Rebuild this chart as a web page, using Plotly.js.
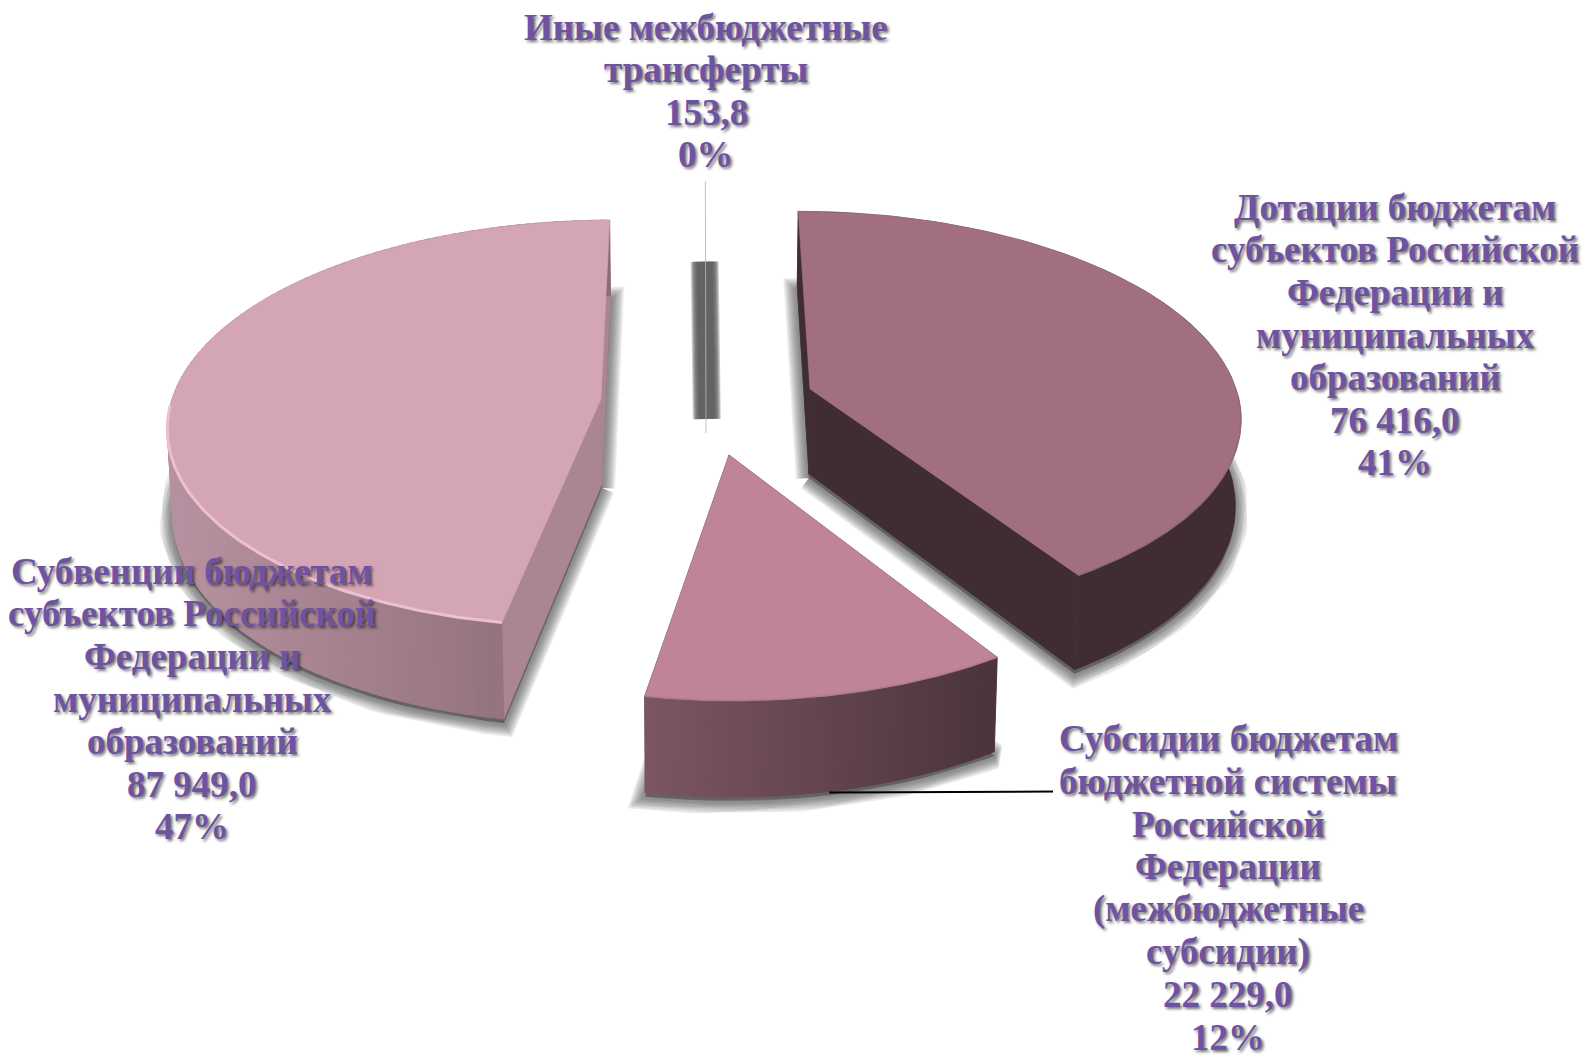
<!DOCTYPE html>
<html><head><meta charset="utf-8">
<script src="https://cdn.plot.ly/plotly-3.0.1.min.js"></script>
<style>html,body{margin:0;padding:0;background:#fff}#c{width:1584px;height:1058px}</style>
</head><body><div id="c"></div>
<script>
// ---- data ----
const categories = [
  ["Дотации бюджетам", "субъектов Российской", "Федерации и", "муниципальных", "образований"],
  ["Субсидии бюджетам", "бюджетной системы", "Российской", "Федерации", "(межбюджетные", "субсидии)"],
  ["Субвенции бюджетам", "субъектов Российской", "Федерации и", "муниципальных", "образований"],
  ["Иные межбюджетные", "трансферты"]
];
const values = [76416.0, 22229.0, 87949.0, 153.8];
const valueLabels = ["76 416,0", "22 229,0", "87 949,0", "153,8"];
const percentLabels = ["41%", "12%", "47%", "0%"];

// ---- styles / projection of the tilted, exploded pie ----
const topColors = ["#a16f7e", "#bf8498", "#d4a5b5", "#dcbcc8"];
const rimColors = ["#8f6a77", "#ab7d8e", "#ecc0cf", "#dcbcc8"];
const faceColors = ["#402d34", "#4b343d", "#aa8592", "#666666"];
const wallLeft = [[64,45,52], [125,86,100], [184,146,161]];
const wallRight = [[64,45,52], [75,52,61], [138,106,118]];
const apexX = [810, 729, 601, 706];
const apexY = [389, 455, 399, 433];
const radius = [426, 441, 429, 604];
const tilts = [0.467, 0.49, 0.467, 0.467];
const labelX = [1395, 1228, 192, 706];
const labelY = [335, 888, 699, 91];
const lineStep = 42.6;
const vx = 700, persp = 0.12, depth = 85, shrink = 0.99;
const labelColor = "#6f53a3";

const total = values.reduce((a, b) => a + b, 0);
let acc = 0;
const bounds = values.map(v => { const s = acc; acc += v / total * 360; return [s, acc]; });
const rad = d => d * Math.PI / 180;

function topPt(i, deg, frac) {
  const zn = -frac * Math.cos(rad(deg));
  const s = 1 / (1 - persp * zn);
  const wx = apexX[i] - vx + radius[i] * frac * Math.sin(rad(deg));
  return {x: vx + s * wx, y: apexY[i] + tilts[i] * s * zn * radius[i], s};
}
function botPt(i, deg, frac) {
  const p = topPt(i, deg, frac);
  return {x: vx + (p.x - vx) * shrink, y: p.y + depth * p.s};
}
function arc(fn, i, a, b, n) {
  const out = [];
  for (let k = 0; k <= n; k++) out.push(fn(i, a + (b - a) * k / n, 1));
  return out;
}
const traces = [];
function poly(pts, color, lw, lc) {
  traces.push({type: "scatter", mode: "lines", fill: "toself", fillcolor: color,
    x: pts.map(p => p.x).concat(pts[0].x), y: pts.map(p => p.y).concat(pts[0].y),
    line: {width: lw === undefined ? 0.6 : lw, color: lc || color}, hoverinfo: "skip", showlegend: false});
}
function path(pts, color, w) {
  traces.push({type: "scatter", mode: "lines", x: pts.map(p => p.x), y: pts.map(p => p.y),
    line: {width: w, color}, hoverinfo: "skip", showlegend: false});
}
const mix = (a, b, t) => "rgb(" + a.map((v, j) => Math.round(v + (b[j] - v) * t)).join(",") + ")";

// soft shadows under the three large slices
[0, 1, 2].forEach(i => {
  const [a, b] = bounds[i];
  const outline = [botPt(i, a, 0)].concat(arc(botPt, i, a, b, 80)).map(p => ({x: p.x, y: p.y + 4}));
  [26, 23, 20, 17, 14, 11, 8, 5].forEach(w => poly(outline, "rgba(70,70,70,0.11)", w, "rgba(70,70,70,0.11)"));
});
// shadow of the hair-thin slice
const t0 = topPt(3, bounds[3][0], 0.655), t1 = topPt(3, bounds[3][0], 0.05);
[28, 26, 24, 22, 19, 16].forEach(w => path([{x: t0.x + 1, y: t0.y}, {x: t1.x + 1, y: t1.y}], "rgba(70,70,70,0.26)", w));

// walls and tops
[0, 1, 2].forEach(i => {
  const [a, b] = bounds[i];
  [a, b].forEach(d => poly([topPt(i, d, 0), topPt(i, d, 1), botPt(i, d, 1), botPt(i, d, 0)], faceColors[i]));
  if (i === 0) {
    const up = arc(topPt, i, a, b, 80), lo = arc(botPt, i, a, b, 80).reverse();
    poly(up.concat(lo), faceColors[i]);
  } else {
    const n = 120;
    const xs = arc(topPt, i, a, b, 160).map(p => p.x);
    const x0 = Math.min(...xs), x1 = Math.max(...xs);
    for (let k = n - 1; k >= 0; k--) {
      const d0 = a + (b - a) * k / n, e = Math.min(a + (b - a) * (k + 1.5) / n, b);
      const quad = [topPt(i, d0, 1), topPt(i, e, 1), botPt(i, e, 1), botPt(i, d0, 1)];
      poly(quad, mix(wallLeft[i], wallRight[i], (quad[0].x - x0) / (x1 - x0)));
    }
  }
  poly([topPt(i, a, 0)].concat(arc(topPt, i, a, b, 120)), topColors[i]);
  // light rim only along the near edge, where a wall lies beneath it
  path(arc(topPt, i, Math.max(a, 92), Math.min(b, 268), 100), rimColors[i], i === 2 ? 3 : 1.6);
});
// the hair-thin slice
const [ta, tb] = bounds[3];
path([topPt(3, tb, 1), topPt(3, ta, 0)], "rgba(205,170,185,0.85)", 1);

// leader line of the subsidy label
const lead = botPt(1, bounds[1][0] + (bounds[1][1] - bounds[1][0]) * 0.5, 1);
traces.push({type: "scatter", mode: "lines", x: [lead.x, labelX[1] - 175], y: [lead.y + 1, lead.y],
  line: {width: 2, color: "#000"}, hoverinfo: "skip", showlegend: false});

const annotations = [];
categories.forEach((lines, i) => {
  const all = lines.concat(valueLabels[i], percentLabels[i]);
  all.forEach((txt, k) => annotations.push({
    x: labelX[i], y: labelY[i] + (k - (all.length - 1) / 2) * lineStep, xref: "x", yref: "y",
    showarrow: false, align: "center", text: "<b>" + txt + "</b>",
    font: {family: "Liberation Serif", size: 37, color: labelColor, shadow: "2px 2px 3px rgba(0,0,0,0.55)"}
  }));
});

Plotly.newPlot("c", traces, {
  width: 1584, height: 1058, margin: {l: 0, r: 0, t: 0, b: 0}, paper_bgcolor: "#fff", plot_bgcolor: "#fff",
  showlegend: false,
  xaxis: {range: [0, 1584], visible: false, fixedrange: true},
  yaxis: {range: [1058, 0], visible: false, fixedrange: true},
  annotations
}, {displayModeBar: false, staticPlot: true});
</script></body></html>
